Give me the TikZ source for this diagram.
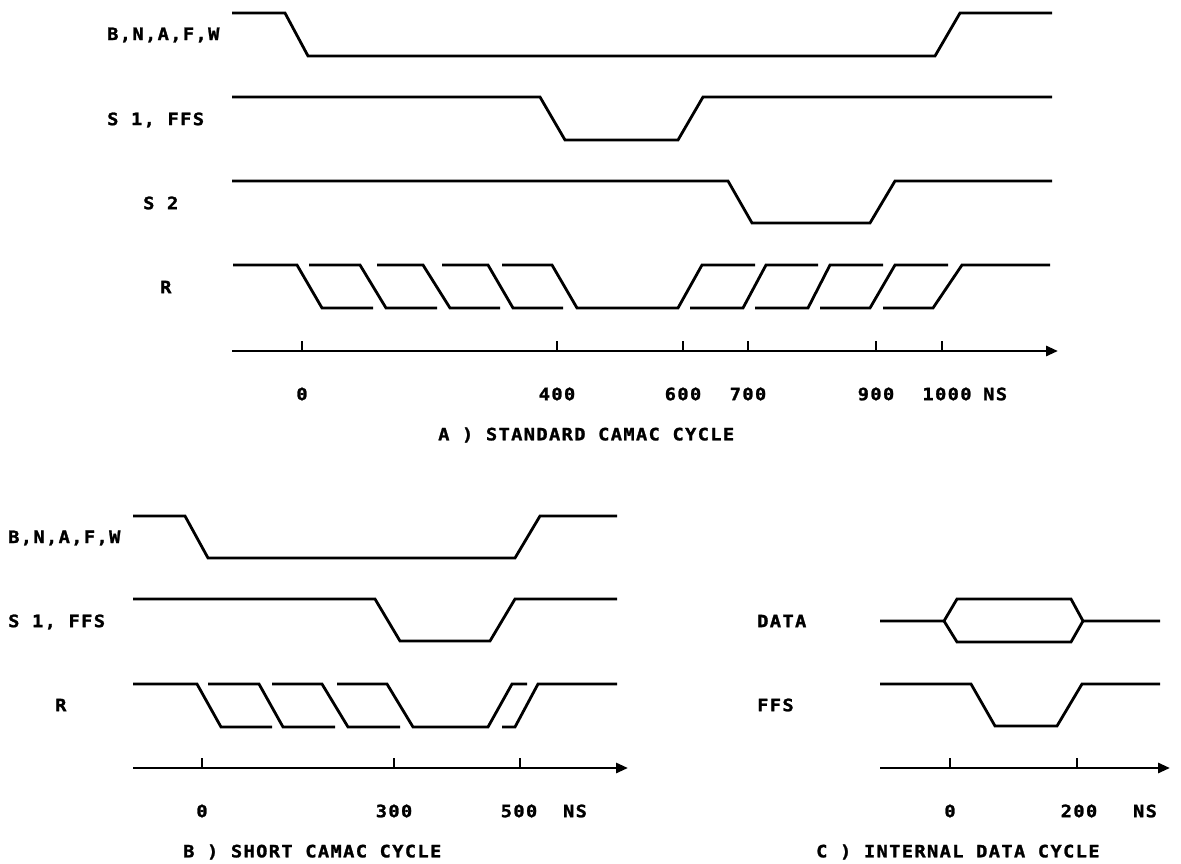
\documentclass[tikz,border=0pt]{standalone}
\usepackage{fontspec}
\usetikzlibrary{arrows.meta}
\newfontfamily\plotfont[FakeStretch=1.1,LetterSpace=8,FakeBold=1.5]{DejaVu Sans Mono Bold}
\tikzset{
  wave/.style={line width=2.8pt, line join=miter, line cap=butt},
  axisline/.style={line width=2.8pt, -{Triangle[length=12pt,width=10pt]}},
  tickmark/.style={line width=2.2pt},
  lbl/.style={font=\plotfont\fontsize{17}{19}\selectfont, inner sep=0pt, anchor=west},
  num/.style={font=\plotfont\fontsize{17}{19}\selectfont, inner sep=0pt, anchor=center}
}
\begin{document}
\begin{tikzpicture}[x=1pt,y=-1pt]
\useasboundingbox (0,0) rectangle (1181,864);

% ---------- Panel A ----------
\node[lbl] (aBN) at (107,35) {B,N,A,F,W};
\node[lbl] (aS1) at (107,120) {S 1, FFS};
\node[lbl] (aS2) at (143,203) {S 2};
\node[lbl] (aR)  at (160,287) {R};

\draw[wave] (232,13)--(285,13)--(308,56)--(935,56)--(960,13)--(1052,13);
\draw[wave] (232,97)--(540,97)--(565,140)--(678,140)--(703,97)--(1052,97);
\draw[wave] (232,181)--(728,181)--(752,223)--(870,223)--(895,181)--(1052,181);

\draw[wave] (233,265)--(297,265)--(322,308)--(373,308);
\draw[wave] (309,265)--(360,265)--(386,308)--(437,308);
\draw[wave] (377,265)--(423,265)--(450,308)--(500,308);
\draw[wave] (442,265)--(488,265)--(513,308)--(563,308);
\draw[wave] (502,265)--(552,265)--(577,308)--(678,308)--(702,265)--(755,265);
\draw[wave] (690,308)--(743,308)--(766,265)--(818,265);
\draw[wave] (755,308)--(808,308)--(830,265)--(883,265);
\draw[wave] (820,308)--(870,308)--(895,265)--(948,265);
\draw[wave] (883,308)--(933,308)--(962,265)--(1050,265);

\coordinate (aAx0) at (232,351);
\coordinate (aAx1) at (1058,351);
\draw[axisline] (aAx0) -- (aAx1);
\foreach \t in {302,557,683,748,876,942} \draw[tickmark] (\t,341) -- (\t,351);

\node[num] (a0)    at (302,394) {0};
\node[num] (a400)  at (557,394) {400};
\node[num] (a600)  at (683,394) {600};
\node[num] (a700)  at (748,394) {700};
\node[num] (a900)  at (876,394) {900};
\node[num] (a1000) at (947,394) {1000};
\node[lbl] (aNS)   at (983,394) {NS};
\node[lbl] (aCap)  at (438,435) {A ) STANDARD CAMAC CYCLE};

% ---------- Panel B ----------
\node[lbl] (bBN) at (8,538) {B,N,A,F,W};
\node[lbl] (bS1) at (8,622) {S 1, FFS};
\node[lbl] (bR)  at (55,705) {R};

\draw[wave] (133,516)--(185,516)--(208,558)--(515,558)--(540,516)--(617,516);
\draw[wave] (133,599)--(375,599)--(400,641)--(490,641)--(515,599)--(617,599);

\draw[wave] (133,684)--(197,684)--(221,727)--(272,727);
\draw[wave] (208,684)--(259,684)--(283,727)--(335,727);
\draw[wave] (272,684)--(322,684)--(348,727)--(400,727);
\draw[wave] (337,684)--(387,684)--(413,727)--(488,727)--(512,684)--(527,684);
\draw[wave] (502,727)--(515,727)--(538,684)--(617,684);

\coordinate (bAx0) at (133,768);
\coordinate (bAx1) at (628,768);
\draw[axisline] (bAx0) -- (bAx1);
\foreach \t in {202,394,520} \draw[tickmark] (\t,758) -- (\t,768);

\node[num] (b0)   at (202,811) {0};
\node[num] (b300) at (394,811) {300};
\node[num] (b500) at (519,811) {500};
\node[num] (bNS)  at (575,811) {NS};
\node[lbl] (bCap) at (183,852) {B ) SHORT CAMAC CYCLE};

% ---------- Panel C ----------
\node[lbl] (cDATA) at (757,621) {DATA};
\node[lbl] (cFFS)  at (757,705) {FFS};

\draw[wave] (880,621)--(944,621)--(957,599)--(1071,599)--(1083,621)--(1160,621);
\draw[wave] (944,621)--(957,642)--(1071,642)--(1083,621);
\draw[wave] (880,684)--(971,684)--(995,726)--(1057,726)--(1082,684)--(1160,684);

\coordinate (cAx0) at (880,768);
\coordinate (cAx1) at (1170,768);
\draw[axisline] (cAx0) -- (cAx1);
\foreach \t in {950,1077} \draw[tickmark] (\t,758) -- (\t,768);

\node[num] (c0)   at (950,811) {0};
\node[num] (c200) at (1079,811) {200};
\node[num] (cNS)  at (1145,811) {NS};
\node[lbl] (cCap) at (816,852) {C ) INTERNAL DATA CYCLE};
\end{tikzpicture}
\end{document}
